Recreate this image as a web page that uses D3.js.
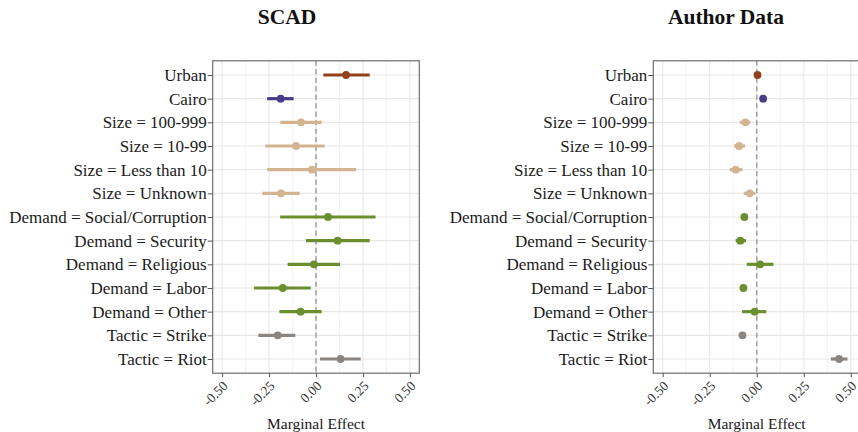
<!DOCTYPE html>
<html>
<head>
<meta charset="utf-8">
<script src="https://cdn.jsdelivr.net/npm/d3@7"></script>
<style>
  html, body { margin: 0; padding: 0; background: #ffffff; }
  svg { display: block; font-family: 'Liberation Serif', 'DejaVu Serif', serif; }
</style>
</head>
<body>
<svg id="chart" width="858" height="432"></svg>
<script>
// Model terms, top to bottom
const terms = [
  "Urban", "Cairo",
  "Size = 100-999", "Size = 10-99", "Size = Less than 10", "Size = Unknown",
  "Demand = Social/Corruption", "Demand = Security", "Demand = Religious",
  "Demand = Labor", "Demand = Other",
  "Tactic = Strike", "Tactic = Riot"
];
const termGroup = [
  "Urban", "Cairo",
  "Size", "Size", "Size", "Size",
  "Demand", "Demand", "Demand", "Demand", "Demand",
  "Tactic", "Tactic"
];
const groupNames  = ["Urban", "Cairo", "Size", "Demand", "Tactic"];
const groupColors = ["#93401d", "#483d8b", "#d2b491", "#6b8e2f", "#8a8581"];

// SCAD: marginal effects with interval bounds
const scadEst = [0.160, -0.188, -0.080, -0.106, -0.021, -0.186, 0.064, 0.115, -0.011, -0.177, -0.082, -0.204, 0.131];
const scadLo  = [0.039, -0.260, -0.190, -0.270, -0.260, -0.286, -0.191, -0.053, -0.151, -0.331, -0.195, -0.307, 0.021];
const scadHi  = [0.286, -0.119, 0.030, 0.046, 0.214, -0.087, 0.317, 0.286, 0.128, -0.028, 0.030, -0.110, 0.238];

// Author data: marginal effects with interval bounds
const authEst = [0.004, 0.034, -0.060, -0.094, -0.112, -0.037, -0.066, -0.087, 0.018, -0.071, -0.011, -0.076, 0.438];
const authLo  = [-0.004, 0.026, -0.090, -0.120, -0.144, -0.069, -0.074, -0.112, -0.053, -0.079, -0.078, -0.084, 0.394];
const authHi  = [0.012, 0.042, -0.034, -0.062, -0.076, -0.007, -0.058, -0.057, 0.089, -0.063, 0.051, -0.068, 0.482];

const xTicks      = [-0.50, -0.25, 0.00, 0.25, 0.50];
const xTickLabels = ["-0.50", "-0.25", "0.00", "0.25", "0.50"];
const xMinor      = [-0.375, -0.125, 0.125, 0.375];
const xDomain     = [-0.55, 0.55];

const panelTitles = ["SCAD", "Author Data"];
const xTitle = "Marginal Effect";

const SERIF = "'Liberation Serif', 'DejaVu Serif', serif";
const svg = d3.select("#chart");
const color = d3.scaleOrdinal().domain(groupNames).range(groupColors);

function drawPanel(opts) {
  const { left, right, top, bottom, title, titleX, est, lo, hi } = opts;
  const g = svg.append("g");

  const x = d3.scaleLinear().domain(xDomain).range([left, right]);
  const y = d3.scalePoint().domain(terms).range([top, bottom]).padding(0.6);

  // panel background grid
  g.append("g").selectAll("line.minor").data(xMinor).join("line")
    .attr("x1", d => x(d)).attr("x2", d => x(d))
    .attr("y1", top).attr("y2", bottom)
    .attr("stroke", "#f0f0f0").attr("stroke-width", 0.8);
  g.append("g").selectAll("line.major").data(xTicks).join("line")
    .attr("x1", d => x(d)).attr("x2", d => x(d))
    .attr("y1", top).attr("y2", bottom)
    .attr("stroke", "#e8e8e8").attr("stroke-width", 1.1);
  g.append("g").selectAll("line.row").data(terms).join("line")
    .attr("x1", left).attr("x2", right)
    .attr("y1", d => y(d)).attr("y2", d => y(d))
    .attr("stroke", "#e8e8e8").attr("stroke-width", 1.1);

  // reference line at zero
  g.append("line")
    .attr("x1", x(0)).attr("x2", x(0))
    .attr("y1", top).attr("y2", bottom)
    .attr("stroke", "#a3a3a3").attr("stroke-width", 1.6)
    .attr("stroke-dasharray", "5,3.5");

  // intervals and point estimates
  const rows = terms.map((t, i) => ({ term: t, group: termGroup[i], est: est[i], lo: lo[i], hi: hi[i] }));
  g.append("g").selectAll("line.ci").data(rows).join("line")
    .attr("x1", d => x(d.lo)).attr("x2", d => x(d.hi))
    .attr("y1", d => y(d.term)).attr("y2", d => y(d.term))
    .attr("stroke", d => color(d.group)).attr("stroke-width", 3.2);
  g.append("g").selectAll("circle").data(rows).join("circle")
    .attr("cx", d => x(d.est)).attr("cy", d => y(d.term))
    .attr("r", 3.9)
    .attr("fill", d => color(d.group));

  // panel border
  g.append("rect")
    .attr("x", left).attr("y", top)
    .attr("width", right - left).attr("height", bottom - top)
    .attr("fill", "none").attr("stroke", "#6e6e6e").attr("stroke-width", 1.2);

  // y axis
  const yAxis = g.append("g").attr("transform", `translate(${left},0)`)
    .call(d3.axisLeft(y).tickSize(5).tickPadding(1));
  yAxis.select(".domain").remove();
  yAxis.selectAll(".tick line").attr("stroke", "#555").attr("stroke-width", 1);
  yAxis.selectAll(".tick text")
    .attr("fill", "#1a1a1a")
    .style("font-family", SERIF)
    .style("font-size", "17px");

  // x axis with slanted labels
  const xAxis = g.append("g").attr("transform", `translate(0,${bottom})`)
    .call(d3.axisBottom(x).tickValues(xTicks).tickSize(4)
      .tickFormat((d, i) => xTickLabels[i]));
  xAxis.select(".domain").remove();
  xAxis.selectAll(".tick line").attr("stroke", "#555").attr("stroke-width", 1);
  xAxis.selectAll(".tick text")
    .attr("fill", "#333")
    .style("font-family", SERIF)
    .style("font-size", "13.5px")
    .attr("text-anchor", "end")
    .attr("x", 0).attr("y", 0).attr("dy", "0")
    .attr("transform", "translate(6,13.5) rotate(-45)");

  // axis title
  g.append("text")
    .attr("x", (left + Math.min(right, 860)) / 2).attr("y", 428.5)
    .attr("text-anchor", "middle")
    .attr("fill", "#1a1a1a")
    .style("font-family", SERIF)
    .style("font-size", "15.5px")
    .text(xTitle);

  // panel title
  svg.append("text")
    .attr("x", titleX).attr("y", 24)
    .attr("text-anchor", "middle")
    .attr("fill", "#111")
    .style("font-family", SERIF)
    .style("font-size", "21.5px").style("font-weight", "bold")
    .text(title);
}

drawPanel({ left: 212.7, right: 419.3, top: 60.8, bottom: 373.2, title: panelTitles[0], titleX: 287,
            est: scadEst, lo: scadLo, hi: scadHi });
drawPanel({ left: 653.3, right: 860.2, top: 60.8, bottom: 373.2, title: panelTitles[1], titleX: 726,
            est: authEst, lo: authLo, hi: authHi });
</script>
</body>
</html>
